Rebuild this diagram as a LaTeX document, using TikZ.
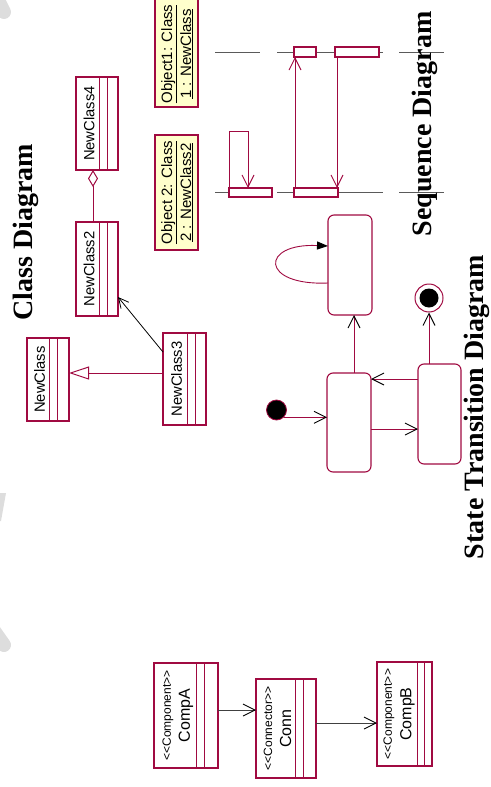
\documentclass[tikz,border=0pt]{standalone}
\usepackage{fontspec}
\setmainfont{Liberation Serif}
\setsansfont{Liberation Sans}
\usetikzlibrary{arrows.meta}
\definecolor{rose}{RGB}{160,10,65}
\definecolor{lifegray}{HTML}{5A5A5A}
\definecolor{noteyellow}{HTML}{FFFFCC}
\definecolor{haze}{HTML}{DDDDDD}

% box given by its corners: style, name, x1, y1, x2, y2
\newcommand\boxat[6]{%
  \node[#1, minimum width={#5-#3}, minimum height={#6-#4}] (#2) at ({(#3+#5)/2},{(#4+#6)/2}) {};}
% class: name, x1, y1, x2, y2, divider a, divider b, label
\newcommand\umlclass[8]{%
  \boxat{box}{#1}{#2}{#3}{#4}{#5}
  \draw[umlline] (#6,#3) -- (#6,#5) (#7,#3) -- (#7,#5);
  \node[lbl] (#1-label) at ({(#2+#6)/2+1.5},{(#3+#5)/2}) {#8};}
% component: name, x1, y1, x2, y2, divider a, divider b, stereotype x, name x
\newcommand\umlcomp[9]{%
  \boxat{box}{#1}{#2}{#3}{#4}{#5}
  \draw[umlline] (#6,#3) -- (#6,#5) (#7,#3) -- (#7,#5);
  \node[stereo] (#1-stereo) at (#8,{(#3+#5)/2}) {\compstereo};
  \node[complbl] (#1-label) at (#9,{(#3+#5)/2}) {\complabel};}

\begin{document}
\begin{tikzpicture}[x=1pt,y=-1pt,
  umlline/.style={draw=rose, line width=1pt},
  box/.style={rectangle, draw=rose, line width=1.1pt, fill=white, inner sep=0pt, outer sep=0pt},
  statebox/.style={box, rounded corners=6pt},
  objbox/.style={box, fill=noteyellow},
  lbl/.style={rotate=90, inner sep=0pt, font=\sffamily\fontsize{14.8}{17}\selectfont},
  complbl/.style={rotate=90, inner sep=0pt, font=\sffamily\fontsize{16}{19}\selectfont},
  stereo/.style={rotate=90, inner sep=0pt, font=\sffamily\fontsize{12}{14}\selectfont},
  objlbl/.style={rotate=90, anchor=base, inner sep=0pt, font=\sffamily\fontsize{15}{18}\selectfont},
  heading/.style={rotate=90, anchor=base, inner sep=0pt, font=\rmfamily\bfseries\fontsize{28}{32}\selectfont},
  life/.style={draw=lifegray, line width=1pt},
  msg/.style={draw=rose, line width=0.9pt, -{Straight Barb[length=12pt,width=12pt]}},
  trans/.style={draw=rose, line width=0.9pt, -{Straight Barb[length=12pt,width=12pt,color=black]}},
  flow/.style={draw=black!75, line width=0.9pt, -{Straight Barb[length=12pt,width=12pt,color=black]}},
  dep/.style={draw=black, line width=0.8pt, -{Straight Barb[length=10pt,width=10pt]}},
]
\useasboundingbox (0,0) rectangle (490,787);

% faint marks along the left edge
\draw[haze, line width=14pt, line cap=round] (-4,-4) -- (4,12);
\fill[haze] (0,493) -- (6,493) -- (1,521) -- (0,521) -- cycle;
\draw[haze, line width=14pt, line cap=round] (-8,628) -- (4,645);

% ---------------- class diagram ----------------
\node[heading] (tclass) at (32,232.5) {Class Diagram};
\umlclass{nc4}{76}{77}{118}{170}{99}{107}{NewClass4}
\umlclass{nc2}{76}{222}{118}{316}{99}{107}{NewClass2}
\umlclass{nc}{27}{338}{69}{421}{49}{57}{NewClass}
\umlclass{nc3}{163}{333}{206}{425}{187}{195}{NewClass3}
\draw[umlline, {Diamond[open,fill=white,length=17pt,width=10pt]}-] (93,0 |- nc4.south) -- (93,0 |- nc2.north);
\draw[umlline, -{Triangle[open,fill=white,length=20pt,width=13pt]}] (nc3.west |- 0,373) -- (nc.east |- 0,373);
\draw[dep] (nc3.west |- 0,352) -- (nc2.east |- 0,297);

% ---------------- sequence diagram ----------------
\draw[life] (215,52) -- (260,52) (277,52) -- (383,52) (399,52) -- (444,52);
\draw[life] (215,192) -- (272,192) (277,192) -- (383,192) (399,192) -- (444,192);
\node[heading] (tseq) at (431,124) {Sequence Diagram};
\boxat{objbox}{obj1}{155}{-2}{198}{107}
\node[objlbl] (obj1-a) at (172,54) {\underline{Object1: Class}};
\node[objlbl] (obj1-b) at (191,54) {\underline{1 : NewClass}};
\boxat{objbox}{obj2}{155}{135}{198}{250}
\node[objlbl] (obj2-a) at (172,192.5) {\underline{Object 2: Class}};
\node[objlbl] (obj2-b) at (191,192.5) {\underline{2 : NewClass2}};
\boxat{box}{act11}{294}{47}{316}{57}
\boxat{box}{act12}{335}{47}{379}{57}
\boxat{box}{act21}{229}{188}{272}{197}
\boxat{box}{act22}{294}{188}{338}{197}
\draw[msg] (act21.north west) |- (248,131) -- (248,0 |- act21.north);
\draw[msg] (295,0 |- act22.north) -- (295,0 |- act11.south);
\draw[msg] (337,0 |- act12.south) -- (337,0 |- act22.north);

% ---------------- state transition diagram ----------------
\node[heading] (tstate) at (483,407) {State Transition Diagram};
\boxat{statebox}{sA}{328}{215}{372}{315}
\boxat{statebox}{sB}{327}{373}{371}{472}
\boxat{statebox}{sC}{418}{364}{461}{464}
\node[circle, fill=black, draw=rose, line width=0.8pt, minimum size=20pt, inner sep=0pt] (init) at (276.5,410) {};
\node[circle, draw=rose, line width=1pt, fill=white, minimum size=28pt, inner sep=0pt] (fin) at (429,298) {};
\fill[black] (fin.center) circle (9.5pt);
\draw[draw=rose, line width=0.9pt, -{Triangle[length=11pt,width=8pt,color=black]}]
  (sA.west |- 0,283) .. controls (260,286) and (260,243) .. (sA.west |- 0,246);
\draw[trans] (init.-45) -- (sB.west |- init.-45);
\draw[trans] (354,0 |- sB.north) -- (354,0 |- sA.south);
\draw[trans] (sB.east |- 0,429) -- (sC.west |- 0,429);
\draw[trans] (sC.west |- 0,379) -- (sB.east |- 0,379);
\draw[trans] (fin |- sC.north) -- (fin.south);

% ---------------- components ----------------
\def\compstereo{<{}<Component>{}>}\def\complabel{CompA}
\umlcomp{cA}{154}{663}{218}{768}{196}{204}{168}{186}
\def\compstereo{<{}<Connector>{}>}\def\complabel{Conn}
\umlcomp{conn}{256}{679}{316}{778}{295}{303}{268}{285.5}
\def\compstereo{<{}<Component>{}>}\def\complabel{CompB}
\umlcomp{cB}{377}{662}{432}{766}{417}{424}{389}{407.5}
\draw[flow] (cA.east |- 0,710) -- (conn.west |- 0,710);
\draw[flow] (conn.east |- 0,723) -- (cB.west |- 0,723);
\end{tikzpicture}
\end{document}
